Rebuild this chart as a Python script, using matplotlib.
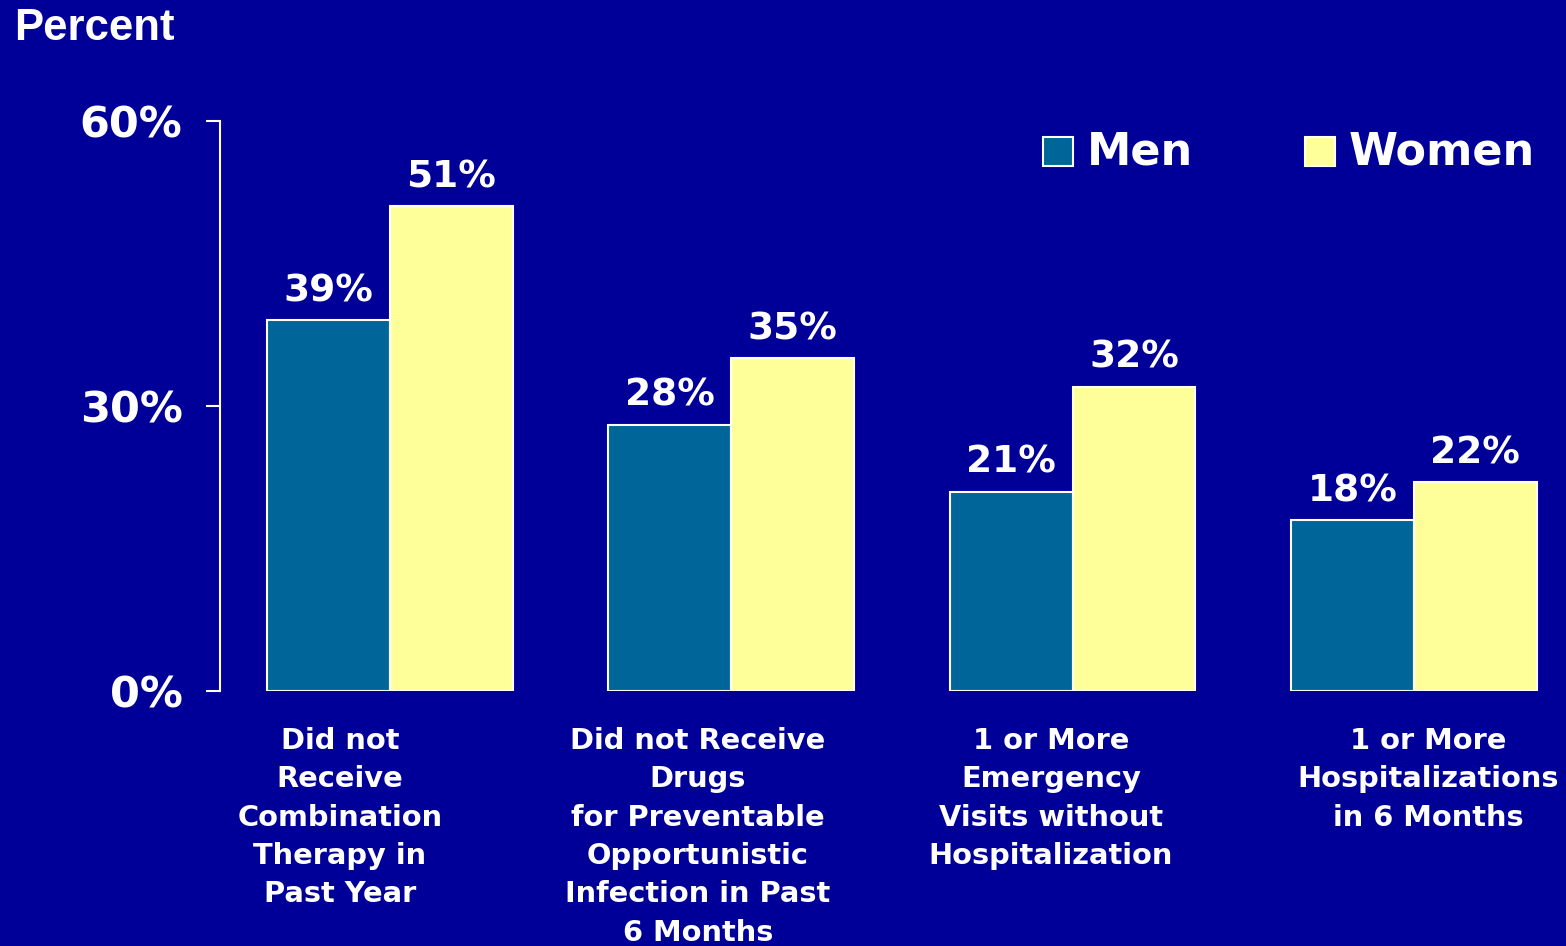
import numpy as np
import matplotlib.pyplot as plt

# data
categories = ['Did not\nReceive\nCombination\nTherapy in\nPast Year',
              'Did not Receive\nDrugs\nfor Preventable\nOpportunistic\nInfection in Past\n6 Months',
              '1 or More\nEmergency\nVisits without\nHospitalization',
              '1 or More\nHospitalizations\nin 6 Months']
men = [39, 28, 21, 18]
women = [51, 35, 32, 22]
yticks = [0, 30, 60]
ytick_labels = ['0%', '30%', '60%']

bg = '#000099'
menColor = '#006699'
womenColor = '#FFFF99'

fig = plt.figure(figsize=(15.66, 9.46), dpi=100, facecolor=bg)
ax = fig.add_axes([220/1566, (946-691)/946, 1 - 220/1566, (691-121)/946])
ax.set_facecolor(bg)

x = np.arange(len(categories))
w = 0.36
barsM = ax.bar(x - w/2, men, w, color=menColor, edgecolor='white', linewidth=1.5)
barsW = ax.bar(x + w/2, women, w, color=womenColor, edgecolor='white', linewidth=1.5)

for bars, vals in ((barsM, men), (barsW, women)):
    for b, v in zip(bars, vals):
        ax.annotate('%d%%' % v, (b.get_x() + b.get_width()/2, v),
                    xytext=(0, 11), textcoords='offset pixels',
                    ha='center', va='bottom', color='white',
                    fontsize=27, fontweight='bold', family='DejaVu Sans')

ax.set_xlim(-0.498, 3.446)
ax.set_ylim(0, 60)
ax.set_yticks(yticks)
ax.set_yticklabels(ytick_labels, color='white', fontsize=31, fontweight='bold')
ax.tick_params(axis='y', colors='white', length=10, width=1.5, direction='out', pad=17)
ax.set_xticks([])
for s in ('top', 'right', 'bottom'):
    ax.spines[s].set_visible(False)
ax.spines['left'].set_color('white')
ax.spines['left'].set_linewidth(1.5)

# category labels (text boxes not centred on the groups)
label_px = [340, 698, 1051, 1428]
for lbl, px in zip(categories, label_px):
    fig.text(px/1566, 1 - 727/946, lbl, ha='center', va='top', color='white',
             fontsize=20.8, fontweight='bold', linespacing=1.47)

fig.text(14/1566, 1 - 8/946, 'Percent', ha='left', va='top', color='white',
         fontsize=31.5, fontweight='bold', family='Liberation Sans')

# legend
for name, col, px in (('Men', menColor, 1043), ('Women', womenColor, 1305)):
    fig.patches.append(plt.Rectangle((px/1566, 1 - 166/946), 30/1566, 29/946,
                                     transform=fig.transFigure, facecolor=col,
                                     edgecolor='white', linewidth=1.5))
    fig.text((px + 44)/1566, 1 - 152/946, name, ha='left', va='center',
             color='white', fontsize=32, fontweight='bold')

fig.savefig('out.png', dpi=100, facecolor=bg)
